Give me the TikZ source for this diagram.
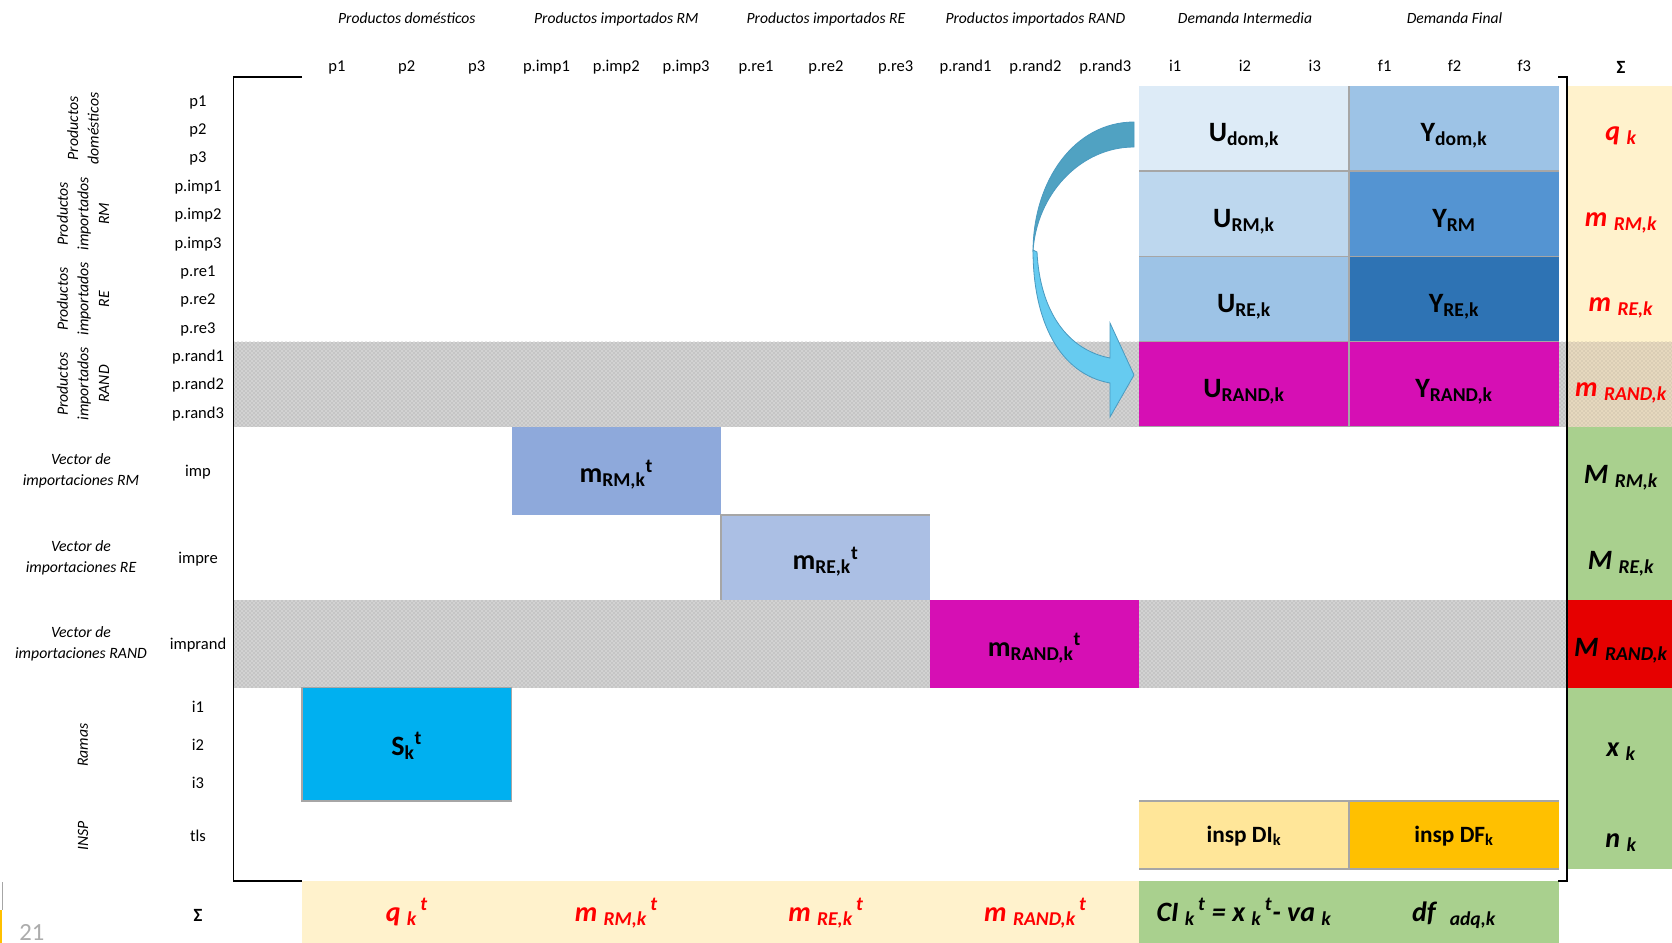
\documentclass[tikz,border=0pt]{standalone}
\usepackage{fontspec}
\setmainfont{Carlito}
\usetikzlibrary{patterns}
\definecolor{udom}{HTML}{DDEBF7}
\definecolor{ydom}{HTML}{9DC3E6}
\definecolor{urm}{HTML}{BDD7EE}
\definecolor{yrm}{HTML}{5494D2}
\definecolor{ure}{HTML}{9DC3E6}
\definecolor{yre}{HTML}{2E73B4}
\definecolor{mag}{HTML}{D60FB4}
\definecolor{mrm}{HTML}{8EA9DB}
\definecolor{mre}{HTML}{ABBFE4}
\definecolor{scol}{HTML}{00B0F0}
\definecolor{idi}{HTML}{FFE699}
\definecolor{idf}{HTML}{FFC000}
\definecolor{lyel}{HTML}{FFF2CC}
\definecolor{lgreen}{HTML}{A9D08E}
\definecolor{redcell}{HTML}{E60000}
\definecolor{redtxt}{HTML}{FF0000}
\definecolor{gridgray}{HTML}{A6A6A6}
\definecolor{hatchbg}{HTML}{D2D2D2}
\definecolor{hatchfg}{HTML}{9C9C9C}
\definecolor{tanbg}{HTML}{E6D8BE}
\definecolor{tanfg}{HTML}{B4AA98}
\definecolor{arrdark}{HTML}{50A2C2}
\definecolor{arrlight}{HTML}{66CBF0}
\definecolor{arredge}{HTML}{4A9AC0}
\tikzset{
 hdr/.style={font=\fontsize{11.7}{14}\selectfont\itshape, inner sep=0pt, anchor=base},
 lbl/.style={font=\fontsize{12.4}{15}\selectfont, inner sep=0pt, anchor=base},
 grp/.style={font=\fontsize{11.8}{15.5}\selectfont\itshape, align=center, inner sep=0pt},
 big/.style={font=\fontsize{21}{24}\selectfont\bfseries, inner sep=0pt, anchor=base},
 tot/.style={font=\fontsize{21}{25}\selectfont\bfseries\itshape, inner sep=0pt, anchor=base},
 redtot/.style={tot, text=redtxt},
 insp/.style={font=\fontsize{17.5}{20}\selectfont\bfseries, inner sep=0pt, anchor=base},
 gridline/.style={draw=gridgray, line width=0.9pt},
 hatch/.style={fill=hatchbg, postaction={pattern=crosshatch dots, pattern color=hatchfg}},
 tanhatch/.style={fill=tanbg, postaction={pattern=crosshatch dots, pattern color=tanfg}},
 bracket/.style={line width=1.4pt, black},
 arrowpart/.style={draw=arredge, line width=0.6pt},
}
\begin{document}
\begin{tikzpicture}[x=0.75pt,y=-0.75pt]
\useasboundingbox (0,0) rectangle (1672,943);
\fill[white] (0,0) rectangle (1672,943);

% hatched bands
\path[hatch] (233.5,341.5) rectangle (1566,426.5);
\path[hatch] (233.5,600) rectangle (1566,687.5);

% right sum column
\fill[lyel] (1568,86) rectangle (1672,341.5);
\path[tanhatch] (1568,341.5) rectangle (1672,426.5);
\fill[lgreen] (1568,426.5) rectangle (1672,600);
\fill[redcell] (1568,600) rectangle (1672,687.5);
\fill[lgreen] (1568,687.5) rectangle (1672,869);

% bottom sum row
\fill[lyel] (302,881) rectangle (1139,943);
\fill[lgreen] (1139,881) rectangle (1559,943);

% U / Y blocks
\fill[udom] (1139,86) rectangle (1349,171);
\fill[ydom] (1349,86) rectangle (1559,171);
\fill[urm] (1139,171) rectangle (1349,256.5);
\fill[yrm] (1349,171) rectangle (1559,256.5);
\fill[ure] (1139,256.5) rectangle (1349,341.5);
\fill[yre] (1349,256.5) rectangle (1559,341.5);
\fill[mag] (1139,341.5) rectangle (1559,426.5);
\foreach \yy in {171,256.5,341.5,426.5}
  \draw[gridline] (1139,\yy) -- (1559,\yy);
\draw[gridline] (1349,86) -- (1349,426.5);

% import vectors, S, insp
\fill[mrm] (511.5,426.5) rectangle (721,515);
\fill[mre] (721,515) rectangle (930,600);
\draw[gridline] (721,600) -- (721,515) -- (930,515);
\fill[mag] (930,600) rectangle (1139,687.5);
\path[gridline, fill=scol] (302,687.5) rectangle (511.5,801);
\fill[idi] (1139,801) rectangle (1349,869);
\fill[idf] (1349,801) rectangle (1559,869);
\draw[gridline] (1139,801) -- (1559,801);
\draw[gridline, line width=1.5pt] (1139,869) -- (1559,869);
\draw[gridline] (1349,801) -- (1349,869);

% brackets
\draw[bracket] (302,77) -- (233.5,77) -- (233.5,881) -- (302,881);
\draw[bracket] (1558,77) -- (1566.7,77) -- (1566.7,881) -- (1558,881);

% slide artefacts
\draw[gridgray, line width=0.6pt] (2.5,882) -- (2.5,910);
\fill[idf] (0,910) rectangle (2.2,943);
\node[anchor=base west, font=\fontsize{18.5}{20}\selectfont, text=gray!65, inner sep=0pt] (pgnum) at (19,940) {21};

% curved arrow
\path[arrowpart, fill=arrdark] (1134,122) .. controls (1075,122) and (1033,180) .. (1033,252)
  .. controls (1036,195) and (1080,147) .. (1134,147) -- cycle;
\path[arrowpart, fill=arrlight] (1033,250) .. controls (1033,322) and (1060,374) .. (1110,383)
  -- (1110,417) -- (1134,375) -- (1110,323) -- (1110,358)
  .. controls (1068,350) and (1040,312) .. (1037,252) -- cycle;

% group headers
\node[hdr] (hdom) at (406.8,23.5) {Productos domésticos};
\node[hdr] (hrm) at (616.3,23.5) {Productos importados RM};
\node[hdr] (hre) at (825.9,23.5) {Productos importados RE};
\node[hdr] (hrand) at (1035.4,23.5) {Productos importados RAND};
\node[hdr] (hdi) at (1245,23.5) {Demanda Intermedia};
\node[hdr] (hdf) at (1454.5,23.5) {Demanda Final};

% column labels
\foreach \t [count=\i from 0] in {p1,p2,p3,p.imp1,p.imp2,p.imp3,p.re1,p.re2,p.re3,p.rand1,p.rand2,p.rand3,i1,i2,i3,f1,f2,f3}
  \node[lbl] (c\i) at ({302+69.85*(\i+0.5)},71.5) {\t};
\node[lbl, font=\fontsize{14}{16}\selectfont\bfseries] (csum) at (1621,73) {Σ};

% row labels
\foreach \t [count=\i from 0] in {p1,p2,p3,p.imp1,p.imp2,p.imp3,p.re1,p.re2,p.re3,p.rand1,p.rand2,p.rand3}
  \node[lbl] (r\i) at (198,{86+28.375*(\i+0.5)+6}) {\t};
\node[lbl] (rimp) at (198,476) {imp};
\node[lbl] (rimpre) at (198,563) {impre};
\node[lbl] (rimprand) at (198,649) {imprand};
\node[lbl] (ri1) at (198,712) {i1};
\node[lbl] (ri2) at (198,750) {i2};
\node[lbl] (ri3) at (198,788) {i3};
\node[lbl] (rtls) at (198,841) {tls};
\node[lbl, font=\fontsize{14}{16}\selectfont\bfseries] (rsum) at (198,921) {Σ};

% row group labels
\node[grp, rotate=90] (gdom) at (83,128.5) {Productos\\domésticos};
\node[grp, rotate=90] (grm) at (83,213.75) {Productos\\importados\\RM};
\node[grp, rotate=90] (gre) at (83,299) {Productos\\importados\\RE};
\node[grp, rotate=90] (grand) at (83,384) {Productos\\importados\\RAND};
\node[grp] (vrm) at (81,471) {Vector de\\importaciones RM};
\node[grp] (vre) at (81,557.5) {Vector de\\importaciones RE};
\node[grp] (vrand) at (81,644) {Vector de\\importaciones RAND};
\node[grp, rotate=90] (gramas) at (83,745) {Ramas};
\node[grp, rotate=90] (ginsp) at (83,836) {INSP};

% block labels
\node[big] (udomt) at (1244,141.5) {U\textsubscript{dom,k}};
\node[big] (ydomt) at (1454,141.5) {Y\textsubscript{dom,k}};
\node[big] (urmt) at (1244,227) {U\textsubscript{RM,k}};
\node[big] (yrmt) at (1454,227) {Y\textsubscript{RM}};
\node[big] (uret) at (1244,312) {U\textsubscript{RE,k}};
\node[big] (yret) at (1454,312) {Y\textsubscript{RE,k}};
\node[big] (urandt) at (1244,397) {U\textsubscript{RAND,k}};
\node[big] (yrandt) at (1454,397) {Y\textsubscript{RAND,k}};
\node[big] (mrmt) at (616.3,482.5) {m\textsubscript{RM,k}\textsuperscript{t}};
\node[big] (mret) at (825.5,569.5) {m\textsubscript{RE,k}\textsuperscript{t}};
\node[big] (mrandt) at (1034.5,656) {m\textsubscript{RAND,k}\textsuperscript{t}};
\node[big] (skt) at (406.8,755) {S\textsubscript{k}\textsuperscript{t}};
\node[insp] (idit) at (1244,842) {insp DI\textsubscript{k}};
\node[insp] (idft) at (1454,842) {insp DF\textsubscript{k}};

% right column totals
\node[redtot] (sq) at (1621,140) {q \textsubscript{k}};
\node[redtot] (smrm) at (1621,226) {m \textsubscript{RM,k}};
\node[redtot] (smre) at (1621,311) {m \textsubscript{RE,k}};
\node[redtot] (smrand) at (1621,396) {m \textsubscript{RAND,k}};
\node[tot] (sMrm) at (1621,483) {M \textsubscript{RM,k}};
\node[tot] (sMre) at (1621,569.5) {M \textsubscript{RE,k}};
\node[tot] (sMrand) at (1621,656) {M \textsubscript{RAND,k}};
\node[tot] (sx) at (1621,756) {x \textsubscript{k}};
\node[tot] (sn) at (1621,847) {n \textsubscript{k}};

% bottom totals
\node[redtot] (bq) at (406.8,921) {q \textsubscript{k}\textsuperscript{\,t}};
\node[redtot] (bmrm) at (616.3,921) {m \textsubscript{RM,k}\textsuperscript{\,t}};
\node[redtot] (bmre) at (825.9,921) {m \textsubscript{RE,k}\textsuperscript{\,t}};
\node[redtot] (bmrand) at (1035.4,921) {m \textsubscript{RAND,k}\textsuperscript{\,t}};
\node[tot] (bci) at (1244,921) {CI \textsubscript{k}\textsuperscript{\,t} = x \textsubscript{k}\textsuperscript{\,t}- va \textsubscript{k}};
\node[tot] (bdf) at (1454,921) {df\enspace\textsubscript{adq,k}};
\end{tikzpicture}
\end{document}
